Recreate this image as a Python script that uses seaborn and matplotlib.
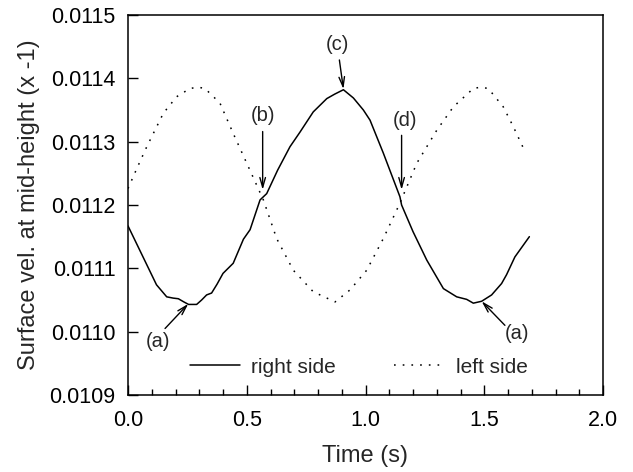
import numpy as np
import pandas as pd
import matplotlib
matplotlib.use("Agg")
import matplotlib.pyplot as plt
import seaborn as sns
from matplotlib.ticker import FormatStrFormatter, MultipleLocator

# ---- data ----
right_t = [0.0, 0.04, 0.08, 0.12, 0.163, 0.19, 0.212, 0.235, 0.255, 0.289, 0.31,
           0.331, 0.352, 0.375, 0.40, 0.443, 0.486, 0.514, 0.556, 0.584, 0.63,
           0.682, 0.724, 0.78, 0.837, 0.87, 0.907, 0.949, 0.991, 1.019, 1.075,
           1.145, 1.152, 1.2, 1.258, 1.328, 1.384, 1.426, 1.454, 1.489, 1.531,
           1.573, 1.594, 1.629, 1.69]
right_v = [0.011167, 0.011136, 0.011105, 0.011074, 0.011055, 0.011053, 0.011052,
           0.011047, 0.011043, 0.011043, 0.011050, 0.011058, 0.011061, 0.011075,
           0.011092, 0.011108, 0.011146, 0.011161, 0.011208, 0.011218, 0.011255,
           0.011292, 0.011315, 0.011347, 0.011368, 0.011375, 0.011382, 0.011369,
           0.011350, 0.011334, 0.011282, 0.011213, 0.011200, 0.011158, 0.011113,
           0.011068, 0.011055, 0.011051, 0.011045, 0.011048, 0.011058, 0.011076,
           0.011090, 0.011118, 0.011150]

left_t = [0.0, 0.04, 0.079, 0.149, 0.205, 0.261, 0.295, 0.324, 0.387, 0.443, 0.5,
          0.57, 0.626, 0.696, 0.78, 0.872, 0.935, 1.005, 1.075, 1.145, 1.216,
          1.3, 1.37, 1.454, 1.485, 1.517, 1.58, 1.622, 1.672]
left_v = [0.011226, 0.011260, 0.011292, 0.011345, 0.011371, 0.011384, 0.011386,
          0.011384, 0.011361, 0.011313, 0.011266, 0.011208, 0.011147, 0.011097,
          0.011063, 0.011047, 0.011066, 0.011097, 0.011147, 0.011203, 0.011266,
          0.011318, 0.011355, 0.011384, 0.011386, 0.011384, 0.011355, 0.011324,
          0.011284]

series_labels = ["right side", "left side"]

# annotations: label, text position, arrow tail, arrow tip
ann_labels = ["(a)", "(b)", "(c)", "(d)", "(a)"]
ann_text = [(0.128, 0.010984), (0.57, 0.011342), (0.883, 0.011453),
            (1.166, 0.011334), (1.636, 0.010997)]
ann_tail = [(0.156, 0.011005), (0.567, 0.011316), (0.890, 0.011429),
            (1.152, 0.011310), (1.587, 0.011010)]
ann_tip = [(0.254, 0.011044), (0.567, 0.011224), (0.907, 0.011383),
           (1.152, 0.011224), (1.489, 0.011048)]

x_ticks = [0.0, 0.5, 1.0, 1.5, 2.0]
y_ticks = [0.0109, 0.0110, 0.0111, 0.0112, 0.0113, 0.0114, 0.0115]

# ---- plot ----
sns.set_style("ticks")
plt.rcParams['font.family'] = ['Liberation Sans', 'DejaVu Sans']

df_r = pd.DataFrame({"t": right_t, "v": right_v})
df_l = pd.DataFrame({"t": left_t, "v": left_v})

fig = plt.figure(figsize=(6.33, 4.72), dpi=100)
ax = fig.add_axes([128 / 633, 1 - 395 / 472, 475 / 633, 380 / 472])

sns.lineplot(data=df_r, x="t", y="v", ax=ax, color="black", lw=1.1,
             label=series_labels[0], sort=False)
sns.lineplot(data=df_l, x="t", y="v", ax=ax, color="black", lw=1.1,
             linestyle=(0, (1.1, 4.6)), label=series_labels[1], sort=False)

ax.set_xlim(0, 2.0)
ax.set_ylim(0.0109, 0.0115)
ax.set_xticks(x_ticks)
ax.set_yticks(y_ticks)
ax.xaxis.set_minor_locator(MultipleLocator(0.1))
ax.xaxis.set_major_formatter(FormatStrFormatter('%.1f'))
ax.yaxis.set_major_formatter(FormatStrFormatter('%.4f'))
ax.tick_params(axis='both', which='major', direction='in', length=7, width=1,
               labelsize=15.5, color='black', labelcolor='black')
ax.tick_params(axis='x', which='major', pad=11)
ax.tick_params(axis='y', which='major', pad=9)
ax.tick_params(axis='x', which='minor', direction='in', length=4.5, width=1,
               color='black')
ax.tick_params(axis='y', which='minor', left=False)
for s in ax.spines.values():
    s.set_visible(True)
    s.set_linewidth(1.1)
    s.set_color('black')

ax.set_xlabel("Time (s)", fontsize=17, labelpad=10)
ax.set_ylabel("Surface vel. at mid-height (x -1)", fontsize=17, labelpad=7)

for lab, tp, tail, tip in zip(ann_labels, ann_text, ann_tail, ann_tip):
    ax.text(tp[0], tp[1], lab, fontsize=14.5, ha='center', va='center')
    ax.annotate("", xy=tip, xytext=tail,
                arrowprops=dict(arrowstyle="->,head_length=0.7,head_width=0.2",
                                color='black', lw=1.0, shrinkA=0, shrinkB=0))

ax.legend(loc='center', bbox_to_anchor=(0.486, 0.073), ncol=2, frameon=False,
          fontsize=15, handlelength=2.4, handletextpad=0.55, columnspacing=2.8)

fig.savefig("out.png", dpi=100)
